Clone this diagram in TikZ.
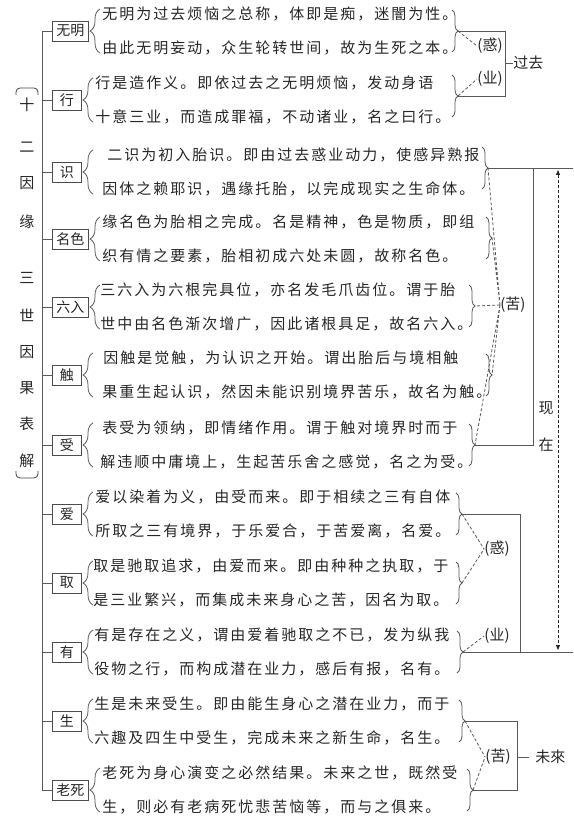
\documentclass[tikz,border=0pt]{standalone}
\usepackage{fontspec}
\usepackage{tikz}
\usetikzlibrary{arrows.meta, positioning, decorations.pathreplacing}
\newfontfamily\cjk{Noto Sans CJK SC}
\newfontfamily\cjkwide[LetterSpace=13.3]{Noto Sans CJK SC}
\tikzset{
    yin/.style={draw=black!70, fill=white, anchor=west, minimum width=29pt, minimum height=20pt,
        inner xsep=4pt, inner ysep=0pt, text=black!85, font=\cjk\fontsize{14}{14}\selectfont},
    hang/.style={anchor=west, inner sep=0pt, text=black!85, font=\cjkwide\fontsize{15}{15}\selectfont},
    tag/.style={inner sep=0pt, text=black!85, font=\cjk\fontsize{15}{15}\selectfont},
    lbrace/.style={decorate, decoration={brace, amplitude=10pt}},
    rbrace/.style={decorate, decoration={brace, amplitude=6pt}},
    link/.style={dash pattern=on 3pt off 2pt},
}

\begin{document}
\begin{tikzpicture}[x=1pt, y=-1pt, black!65, line width=0.8pt]
    \useasboundingbox (0,0) rectangle (573,826);

    % title
    \draw[black!75, rounded corners=4pt] (16,95) -- (16,88) -- (38,88) -- (38,95);
    \node[tag] (t1) at (27,105) {十};
    \node[tag] (t2) at (27,147) {二};
    \node[tag] (t3) at (27,183) {因};
    \node[tag] (t4) at (27,222) {缘};
    \node[tag] (t5) at (27,278) {三};
    \node[tag] (t6) at (27,315) {世};
    \node[tag] (t7) at (27,352) {因};
    \node[tag] (t8) at (27,388) {果};
    \node[tag] (t9) at (27,424) {表};
    \node[tag] (t10) at (27,461) {解};
    \draw[black!75, rounded corners=4pt] (16,471) -- (16,478) -- (38,478) -- (38,471);

    % twelve links
    \node[yin] (wuming) at (52,31) {无明};
    \node[hang] (wuming-a) at (102,14) {无明为过去烦恼之总称，体即是痴，迷闇为性。};
    \node[hang] (wuming-b) at (102,48) {由此无明妄动，众生轮转世间，故为生死之本。};
    \draw[lbrace] (100,53) -- (100,9);
    \draw[rbrace] (452,10) -- (452,52);
    \coordinate (wuming-r) at (458,31);

    \node[yin] (xing) at (52,100) {行};
    \node[hang] (xing-a) at (95,83) {行是造作义。即依过去之无明烦恼，发动身语};
    \node[hang] (xing-b) at (95,117) {十意三业，而造成罪福，不动诸业，名之曰行。};
    \draw[lbrace] (93,122) -- (93,78);
    \draw[rbrace] (452,75) -- (452,117);
    \coordinate (xing-r) at (458,96);

    \node[yin] (shi) at (52,172) {识};
    \node[hang] (shi-a) at (107,155) {二识为初入胎识。即由过去惑业动力，使感异熟报};
    \node[hang] (shi-b) at (102,189) {因体之赖耶识，遇缘托胎，以完成现实之生命体。};
    \draw[lbrace] (93,194) -- (93,150);
    \draw[rbrace] (482,147) -- (482,189);
    \coordinate (shi-r) at (488,168);

    \node[yin] (mingse) at (52,239) {名色};
    \node[hang] (mingse-a) at (102,222) {缘名色为胎相之完成。名是精神，色是物质，即组};
    \node[hang] (mingse-b) at (102,256) {织有情之要素，胎相初成六处未圆，故称名色。};
    \draw[lbrace] (100,261) -- (100,217);
    \draw[rbrace] (486,217) -- (486,259);
    \coordinate (mingse-r) at (492,238);

    \node[yin] (liuru) at (52,307) {六入};
    \node[hang] (liuru-a) at (100,290) {三六入为六根完具位，亦名发毛爪齿位。谓于胎};
    \node[hang] (liuru-b) at (100,324) {世中由名色渐次增广，因此诸根具足，故名六入。};
    \draw[lbrace] (100,329) -- (100,285);
    \draw[rbrace] (469,285) -- (469,327);
    \coordinate (liuru-r) at (475,306);

    \node[yin] (chu) at (52,375) {触};
    \node[hang] (chu-a) at (103,358) {因触是觉触，为认识之开始。谓出胎后与境相触};
    \node[hang] (chu-b) at (102,392) {果重生起认识，然因未能识别境界苦乐，故名为触。};
    \draw[lbrace] (93,397) -- (93,353);
    \draw[rbrace] (486,354) -- (486,396);
    \coordinate (chu-r) at (492,375);

    \node[yin] (shou) at (52,445) {受};
    \node[hang] (shou-a) at (102,428) {表受为领纳，即情绪作用。谓于触对境界时而于};
    \node[hang] (shou-b) at (100,462) {解违顺中庸境上，生起苦乐舍之感觉，名之为受。};
    \draw[lbrace] (93,467) -- (93,423);
    \draw[rbrace] (469,424) -- (469,466);
    \coordinate (shou-r) at (475,445);

    \node[yin] (ai) at (52,514) {爱};
    \node[hang] (ai-a) at (95,497) {爱以染着为义，由受而来。即于相续之三有自体};
    \node[hang] (ai-b) at (95,531) {所取之三有境界，于乐爱合，于苦爱离，名爱。};
    \draw[lbrace] (93,536) -- (93,492);
    \draw[rbrace] (456,493) -- (456,535);
    \coordinate (ai-r) at (462,514);

    \node[yin] (qu) at (52,583) {取};
    \node[hang] (qu-a) at (93,566) {取是驰取追求，由爱而来。即由种种之执取，于};
    \node[hang] (qu-b) at (93,600) {是三业繁兴，而集成未来身心之苦，因名为取。};
    \draw[lbrace] (93,605) -- (93,561);
    \draw[rbrace] (456,562) -- (456,604);
    \coordinate (qu-r) at (462,583);

    \node[yin] (you) at (52,652) {有};
    \node[hang] (you-a) at (94,635) {有是存在之义，谓由爱着驰取之不已，发为纵我};
    \node[hang] (you-b) at (94,669) {役物之行，而构成潜在业力，感后有报，名有。};
    \draw[lbrace] (93,674) -- (93,630);
    \draw[rbrace] (457,631) -- (457,673);
    \coordinate (you-r) at (463,652);

    \node[yin] (sheng) at (52,721) {生};
    \node[hang] (sheng-a) at (94,704) {生是未来受生。即由能生身心之潜在业力，而于};
    \node[hang] (sheng-b) at (94,738) {六趣及四生中受生，完成未来之新生命，名生。};
    \draw[lbrace] (93,743) -- (93,699);
    \draw[rbrace] (459,700) -- (459,742);
    \coordinate (sheng-r) at (465,721);

    \node[yin] (laosi) at (52,790) {老死};
    \node[hang] (laosi-a) at (102,773) {老死为身心演变之必然结果。未来之世，既然受};
    \node[hang] (laosi-b) at (102,807) {生，则必有老病死忧悲苦恼等，而与之俱来。};
    \draw[lbrace] (100,812) -- (100,768);
    \draw[rbrace] (467,769) -- (467,811);
    \coordinate (laosi-r) at (473,790);

    % trunk
    \draw (wuming.west) -- ++(-10,0) |- (laosi.west);
    \draw (xing.west) -- ++(-10,0) (shi.west) -- ++(-10,0) (mingse.west) -- ++(-10,0)
          (liuru.west) -- ++(-10,0) (chu.west) -- ++(-10,0) (shou.west) -- ++(-10,0)
          (ai.west) -- ++(-10,0) (qu.west) -- ++(-10,0) (you.west) -- ++(-10,0)
          (sheng.west) -- ++(-10,0);

    % past
    \coordinate (past-t) at (505,31);
    \coordinate (past-b) at (505,96);
    \coordinate (past-m) at (505,63);
    \draw (wuming-r) -- (past-t) -- (past-b) -- (xing-r);
    \node[tag] (huo-1) at (490,46) {(惑)};
    \node[tag] (ye-1) at (490,79) {(业)};
    \draw[link] (wuming-r) -- (huo-1.west);
    \draw[link] (xing-r) -- (ye-1.west);
    \node[tag, anchor=west] (past) at (513,63) {过去};
    \draw (past-m) -- (past.west);

    % present
    \coordinate (now-t) at (573,168);
    \coordinate (now-b) at (573,652);
    \coordinate (ku-1-t) at (533,168);
    \draw (shi-r) -- (now-t);
    \draw (you-r) -- (now-b);
    \draw (ku-1-t) |- (shou-r);
    \node[tag, anchor=west] (ku-1) at (500,305) {(苦)};
    \draw[link] (ku-1.west) -- (shi-r) (ku-1.west) -- (mingse-r) (ku-1.west) -- (liuru-r)
          (ku-1.west) -- (chu-r) (ku-1.west) -- (shou-r);
    \coordinate (jin-t) at (520,514);
    \coordinate (jin-b) at (520,652);
    \draw (ai-r) -- (jin-t) -- (jin-b);
    \node[tag] (huo-2) at (497,549) {(惑)};
    \node[tag] (ye-2) at (497,636) {(业)};
    \draw[link] (ai-r) -- (huo-2.west) (qu-r) -- (huo-2.west);
    \draw[link] (you-r) -- (ye-2.west);
    \coordinate (now-up) at (558,168);
    \coordinate (now-down) at (558,652);
    \draw[link, black!85, {Triangle[length=5pt,width=4pt]}-{Triangle[length=5pt,width=4pt]},
          shorten <=2pt, shorten >=2pt] (now-up) -- (now-down);
    \node[tag] (xian) at (546,408) {现};
    \node[tag] (zai) at (546,445) {在};

    % future
    \coordinate (wei-t) at (517,721);
    \coordinate (wei-b) at (517,790);
    \coordinate (wei-m) at (517,757);
    \draw (sheng-r) -- (wei-t) -- (wei-b) -- (laosi-r);
    \node[tag] (ku-2) at (498,757) {(苦)};
    \draw[link] (sheng-r) -- (ku-2.west) (laosi-r) -- (ku-2.west);
    \node[tag, anchor=west] (future) at (535,757) {未來};
    \draw[shorten >=6pt] (wei-m) -- (future.west);
\end{tikzpicture}
\end{document}
